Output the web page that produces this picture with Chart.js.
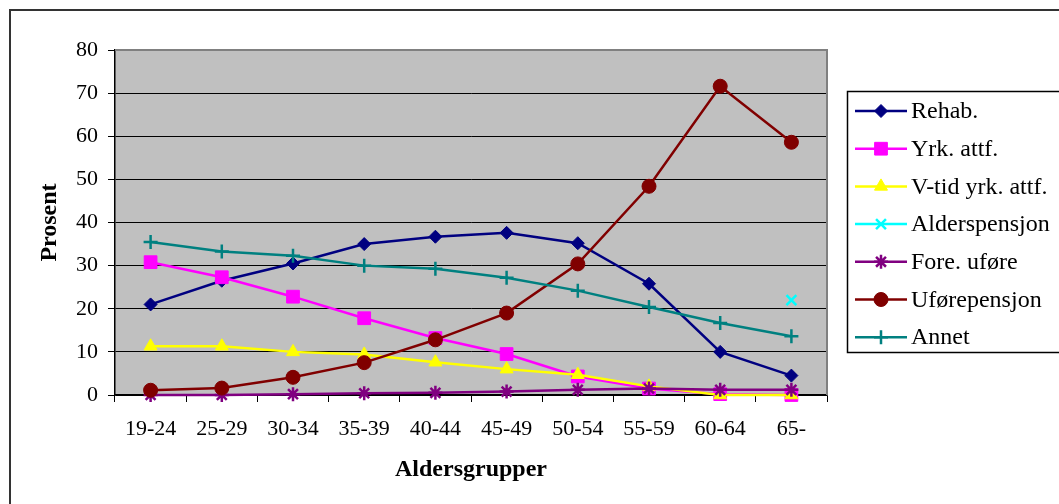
<!DOCTYPE html>
<html lang="no">
  <head>
    <meta charset="UTF-8" />
    <title>Aldersgrupper</title>
    <script src="https://cdn.jsdelivr.net/npm/chart.js"></script>
    <style>
      body { margin: 0; background: #fff; }
      #wrap { width: 1059px; height: 504px; }
    </style>
  </head>
  <body>
    <div id="wrap"><canvas id="chart" width="1059" height="504"></canvas></div>
    <script>
      // age groups on the x axis
      const ageGroups = ["19-24", "25-29", "30-34", "35-39", "40-44", "45-49", "50-54", "55-59", "60-64", "65-"];

      // percent per series
      const rehab = [21, 26.5, 30.5, 35, 36.7, 37.6, 35.2, 25.8, 10, 4.5];
      const yrkAttf = [30.8, 27.3, 22.8, 17.8, 13.2, 9.5, 4.3, 1.5, 0.2, 0];
      const vtidYrkAttf = [11.3, 11.3, 10, 9.4, 7.6, 6, 4.7, 2, 0, 0];
      const alderspensjon = [null, null, null, null, null, null, null, null, null, 22];
      const foreUfore = [0, 0, 0.2, 0.4, 0.5, 0.8, 1.2, 1.5, 1.2, 1.2];
      const uforepensjon = [1.1, 1.6, 4.1, 7.5, 12.8, 19, 30.4, 48.4, 71.6, 58.6];
      const annet = [35.5, 33.3, 32.3, 30, 29.3, 27.2, 24.2, 20.4, 16.7, 13.6];

      const yTicks = [0, 10, 20, 30, 40, 50, 60, 70, 80];

      const serif = "'Liberation Serif', 'Times New Roman', serif";

      const series = [
        { label: "Rehab.", data: rehab, color: "#000080", style: "rectRot", r: 6.5 },
        { label: "Yrk. attf.", data: yrkAttf, color: "#FF00FF", style: "rect", r: 9 },
        { label: "V-tid yrk. attf.", data: vtidYrkAttf, color: "#FFFF00", style: "triangle", r: 7.5 },
        { label: "Alderspensjon", data: alderspensjon, color: "#00FFFF", style: "crossRot", r: 7 },
        { label: "Fore. uføre", data: foreUfore, color: "#800080", style: "star", r: 7 },
        { label: "Uførepensjon", data: uforepensjon, color: "#800000", style: "circle", r: 7 },
        { label: "Annet", data: annet, color: "#008080", style: "cross", r: 7 },
      ];

      const thinMark = (st) => st === "star" || st.startsWith("cross");

      const datasets = series.map((s, i) => ({
        label: s.label,
        data: s.data,
        borderColor: s.color,
        backgroundColor: s.color,
        borderWidth: 2.5,
        pointStyle: s.style,
        pointRadius: s.r,
        pointBorderWidth: thinMark(s.style) ? 2.5 : 1,
        tension: 0,
        clip: false,
        order: -i,
      }));

      // grey plot area, frame and hand-drawn legend
      const excelLook = {
        id: "excelLook",
        beforeDraw(chart) {
          const { ctx, chartArea: a } = chart;
          ctx.save();
          ctx.fillStyle = "#fff";
          ctx.fillRect(0, 0, chart.width, chart.height);
          ctx.strokeStyle = "#333";
          ctx.lineWidth = 2;
          ctx.strokeRect(10, 10, 1200, 700);
          ctx.fillStyle = "#C0C0C0";
          ctx.fillRect(a.left, a.top, a.right - a.left, a.bottom - a.top);
          ctx.restore();
        },
        beforeDatasetsDraw(chart) {
          const { ctx, chartArea: a } = chart;
          ctx.save();
          ctx.strokeStyle = "#808080";
          ctx.lineWidth = 2;
          ctx.beginPath();
          ctx.moveTo(a.left, a.top);
          ctx.lineTo(a.right, a.top);
          ctx.lineTo(a.right, a.bottom);
          ctx.stroke();
          ctx.restore();
        },
        afterDraw(chart) {
          const { ctx } = chart;
          ctx.save();
          ctx.strokeStyle = "#000";
          ctx.lineWidth = 1.5;
          ctx.strokeRect(847.5, 91.5, 300, 261);
          ctx.font = "24px " + serif;
          ctx.textBaseline = "middle";
          series.forEach((s, i) => {
            const y = 111 + i * 37.7;
            ctx.strokeStyle = s.color;
            ctx.lineWidth = 2.5;
            ctx.beginPath();
            ctx.moveTo(855, y);
            ctx.lineTo(907, y);
            ctx.stroke();
            ctx.fillStyle = s.color;
            ctx.lineWidth = thinMark(s.style) ? 2.5 : 1;
            Chart.helpers.drawPoint(ctx, { pointStyle: s.style, radius: s.r, rotation: 0, borderWidth: ctx.lineWidth }, 881, y);
            ctx.fillStyle = "#000";
            ctx.fillText(s.label, 911, y + 1);
          });
          ctx.restore();
        },
      };

      new Chart(document.getElementById("chart"), {
        type: "line",
        data: { labels: ageGroups, datasets: datasets },
        options: {
          responsive: false,
          animation: false,
          layout: { padding: { left: 0, top: 50, right: 232, bottom: 0 } },
          plugins: { legend: { display: false }, tooltip: { enabled: false } },
          scales: {
            x: {
              offset: true,
              afterFit: (s) => { s.height = 109; },
              grid: { offset: true, drawOnChartArea: false, drawTicks: true, tickLength: 7, color: "#000" },
              border: { color: "#000", width: 1.5 },
              ticks: { color: "#000", font: { family: serif, size: 22 }, padding: 14, maxRotation: 0, autoSkip: false },
              title: { display: true, text: "Aldersgrupper", color: "#000", font: { family: serif, size: 24, weight: "bold" }, padding: { bottom: 20 } },
            },
            y: {
              min: 0,
              max: 80,
              afterFit: (s) => { s.width = 115; },
              afterBuildTicks: (s) => { s.ticks = yTicks.map((v) => ({ value: v })); },
              grid: { color: "#000", lineWidth: 1, tickLength: 7 },
              border: { color: "#000", width: 1.5 },
              ticks: { color: "#000", font: { family: serif, size: 22 }, padding: 10 },
              title: { display: true, text: "Prosent", color: "#000", font: { family: serif, size: 24, weight: "bold" }, padding: { top: 35 } },
            },
          },
        },
        plugins: [excelLook],
      });
    </script>
  </body>
</html>
